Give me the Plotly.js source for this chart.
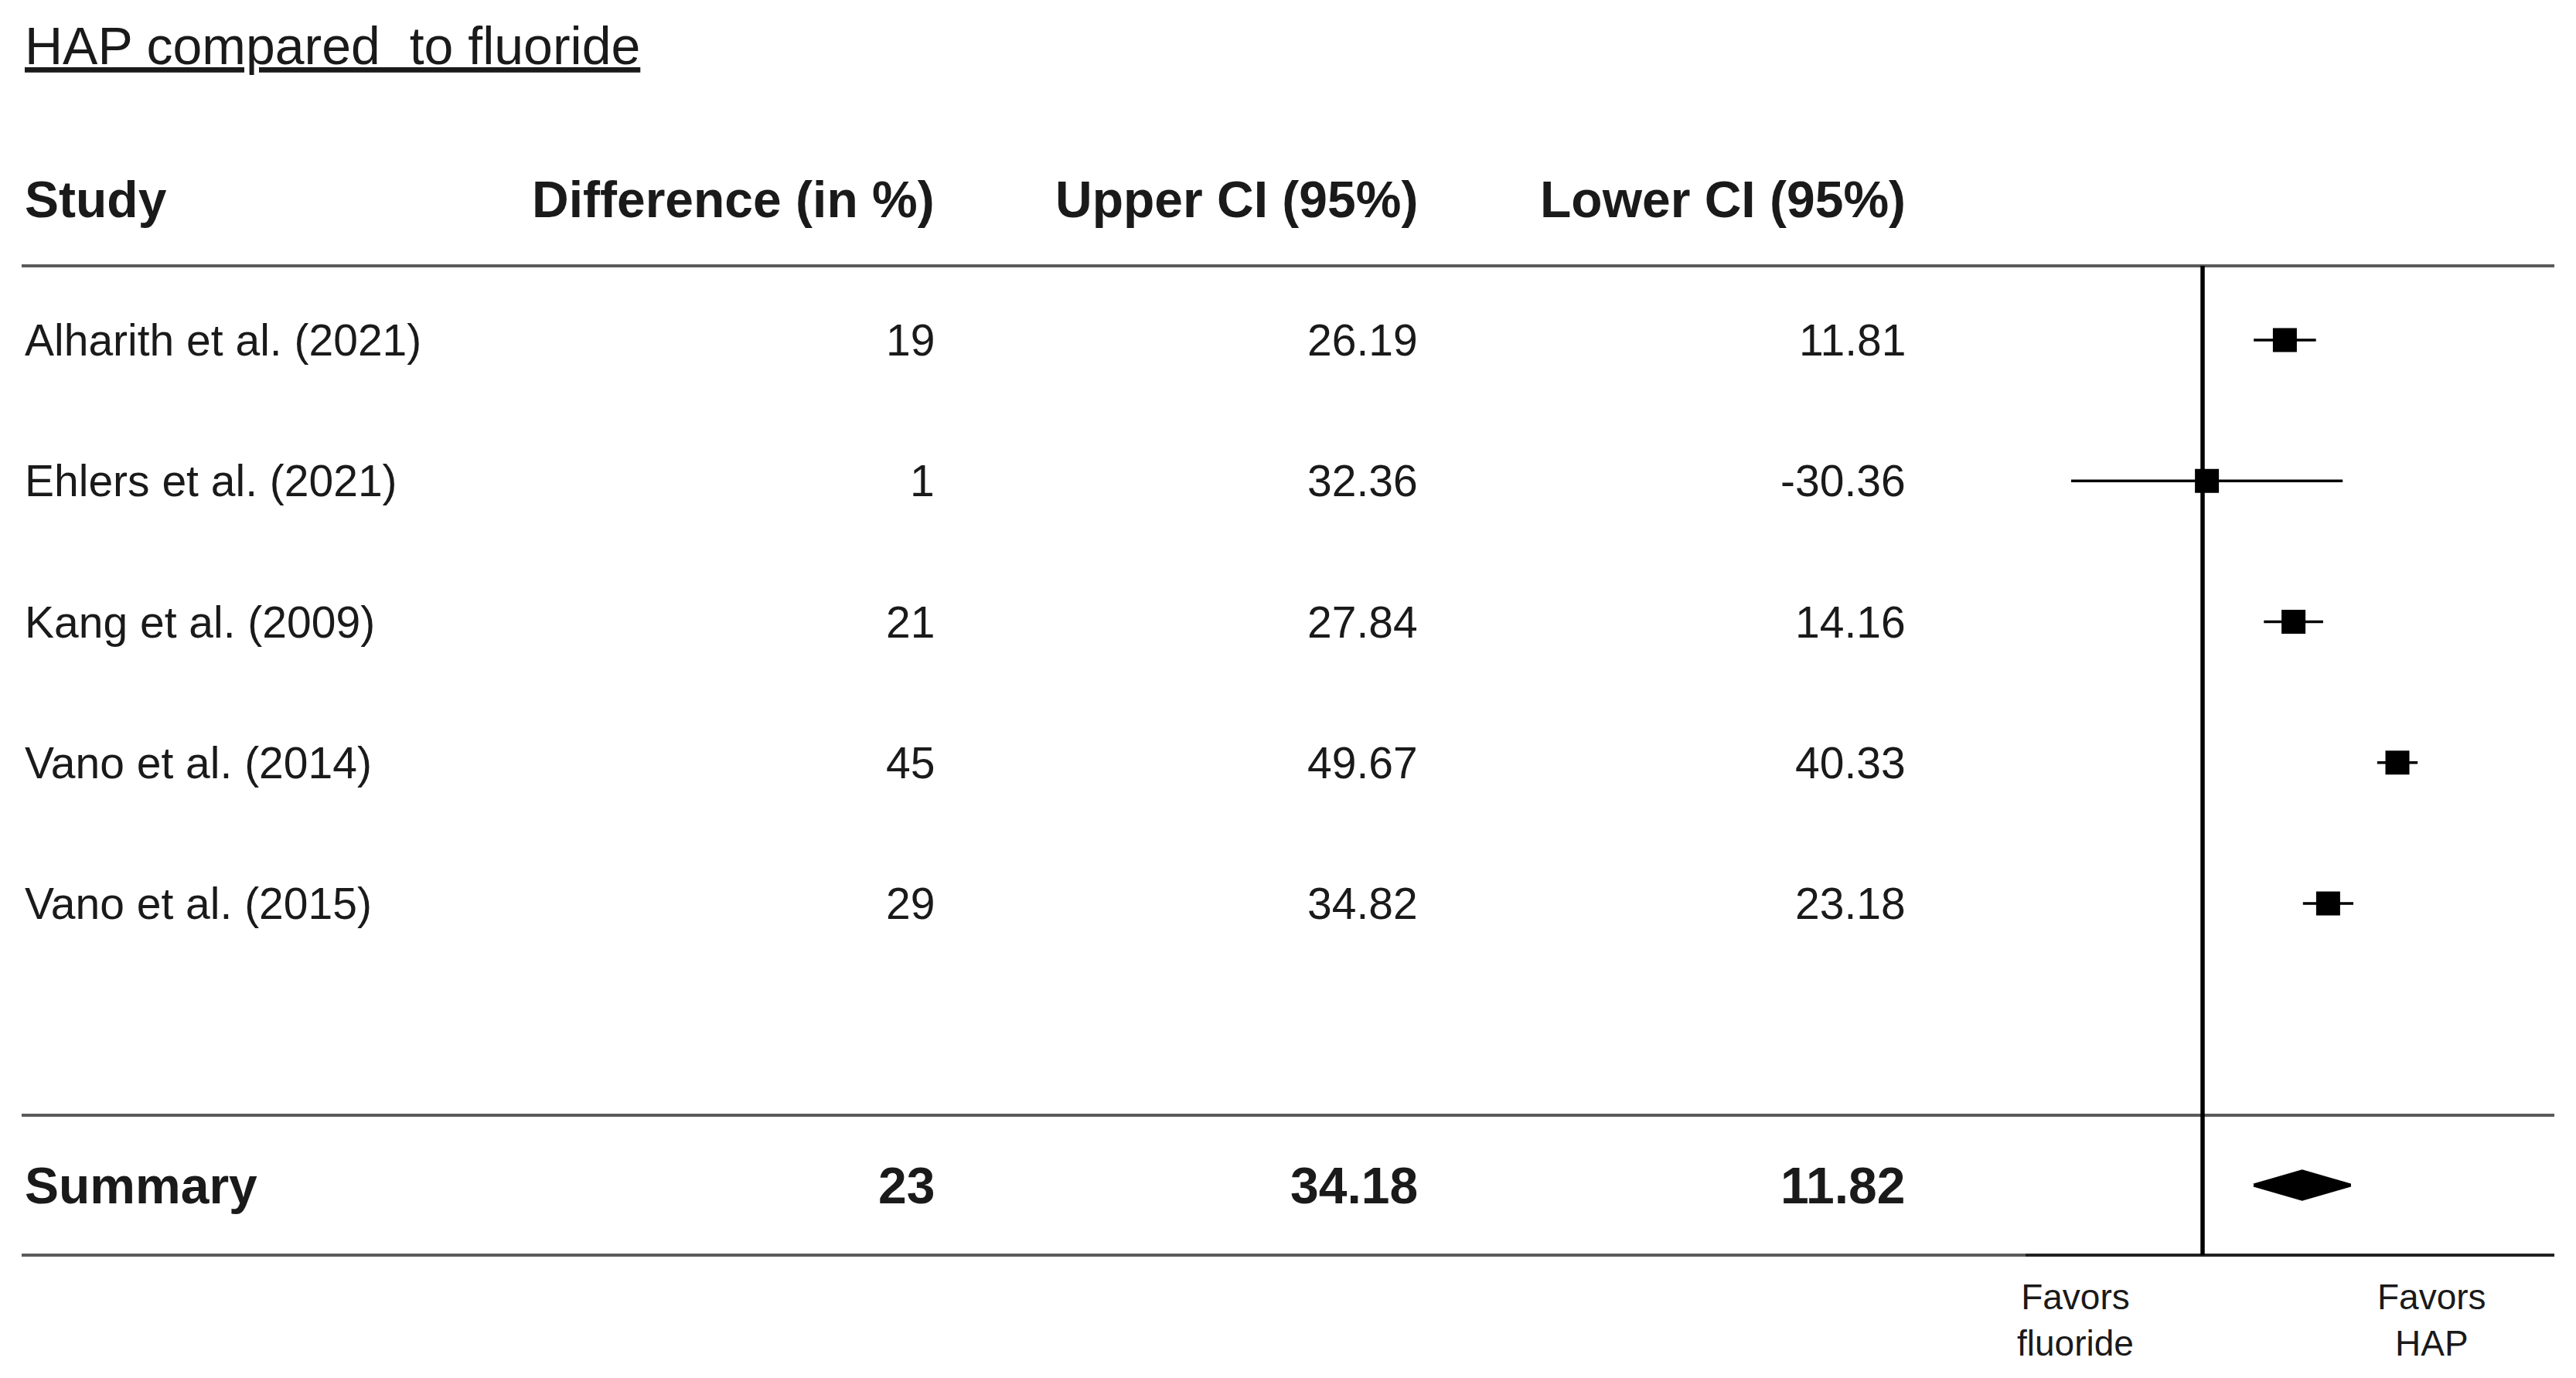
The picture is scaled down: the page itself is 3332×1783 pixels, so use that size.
<!DOCTYPE html>
<html>
<head>
<meta charset="utf-8">
<script src="https://cdn.plot.ly/plotly-3.0.1.min.js"></script>
<style>
html, body { margin: 0; padding: 0; background: #ffffff; }
#chart { width: 3332px; height: 1783px; }
</style>
</head>
<body>
<div id="chart"></div>
<script>
// ---- data ----
var titleText = 'HAP compared\u00a0 to fluoride';
var headers = ['Study', 'Difference (in %)', 'Upper CI (95%)', 'Lower CI (95%)'];
var studies = ['Alharith et al. (2021)', 'Ehlers et al. (2021)', 'Kang et al. (2009)', 'Vano et al. (2014)', 'Vano et al. (2015)'];
var diffs = [19, 1, 21, 45, 29];
var uppers = [26.19, 32.36, 27.84, 49.67, 34.82];
var lowers = [11.81, -30.36, 14.16, 40.33, 23.18];
var summaryLabel = 'Summary';
var summaryDiff = 23;
var summaryUpper = 34.18;
var summaryLower = 11.82;
var favorLeft = 'Favors<br>fluoride';
var favorRight = 'Favors<br>HAP';

// ---- layout constants ----
var W = 3332, H = 1783;
var FONT = 'Liberation Sans, Arial, Helvetica, sans-serif';
var TXT = '#1a1a1a';
var colX = [30 / W, 1211 / W, 1836 / W, 2467 / W];   // left, right, right, right
var colAnchor = ['left', 'right', 'right', 'right'];
var headerRow = 0;
var studyRows = studies.map(function (_, i) { return i + 1; });
var summaryRow = studies.length + 2;
var lineTop = 0.473, lineMid = 6.503, lineBot = 7.497;
var bodySize = 57, boldSize = 66;

var annotations = [];
// title
annotations.push({
  xref: 'paper', yref: 'paper', x: 30 / W, y: 1 - 59 / H,
  xanchor: 'left', yanchor: 'middle', showarrow: false,
  text: '<u>' + titleText + '</u>',
  font: { family: FONT, size: 68, color: TXT }
});
// headers
headers.forEach(function (h, c) {
  annotations.push({
    xref: 'paper', yref: 'y', x: colX[c], y: headerRow,
    xanchor: colAnchor[c], yanchor: 'middle', showarrow: false,
    text: '<b>' + h + '</b>',
    font: { family: FONT, size: boldSize, color: TXT }
  });
});
// study rows
studies.forEach(function (s, i) {
  var cells = [s, String(diffs[i]), String(uppers[i]), String(lowers[i])];
  cells.forEach(function (t, c) {
    annotations.push({
      xref: 'paper', yref: 'y', x: colX[c], y: studyRows[i],
      xanchor: colAnchor[c], yanchor: 'middle', showarrow: false,
      text: t,
      font: { family: FONT, size: bodySize, color: TXT }
    });
  });
});
// summary row
[summaryLabel, String(summaryDiff), String(summaryUpper), String(summaryLower)].forEach(function (t, c) {
  annotations.push({
    xref: 'paper', yref: 'y', x: colX[c], y: summaryRow,
    xanchor: colAnchor[c], yanchor: 'middle', showarrow: false,
    text: '<b>' + t + '</b>',
    font: { family: FONT, size: boldSize, color: TXT }
  });
});
// favors labels
annotations.push({
  xref: 'paper', yref: 'paper', x: 2684 / W, y: 1 - 1708 / H,
  xanchor: 'center', yanchor: 'middle', showarrow: false,
  text: favorLeft, align: 'center',
  font: { family: FONT, size: 46, color: TXT }
});
annotations.push({
  xref: 'paper', yref: 'paper', x: 3145 / W, y: 1 - 1708 / H,
  xanchor: 'center', yanchor: 'middle', showarrow: false,
  text: favorRight, align: 'center',
  font: { family: FONT, size: 46, color: TXT }
});

var gray = '#5a5a5a';
var shapes = [
  { type: 'line', xref: 'paper', yref: 'y', x0: 28 / W, x1: 3304 / W, y0: lineTop, y1: lineTop, line: { color: gray, width: 4 } },
  { type: 'line', xref: 'paper', yref: 'y', x0: 28 / W, x1: 3304 / W, y0: lineMid, y1: lineMid, line: { color: gray, width: 4 } },
  { type: 'line', xref: 'paper', yref: 'y', x0: 28 / W, x1: 3304 / W, y0: lineBot, y1: lineBot, line: { color: gray, width: 4 } },
  { type: 'line', xref: 'paper', yref: 'y', x0: 2620 / W, x1: 3304 / W, y0: lineBot, y1: lineBot, line: { color: '#222222', width: 4 } },
  { type: 'line', xref: 'x', yref: 'y', x0: 0, x1: 0, y0: lineTop, y1: lineBot, line: { color: '#000000', width: 5.5 } }
];

// forest traces
var studyTrace = {
  type: 'scatter', mode: 'markers',
  x: diffs, y: studyRows,
  marker: { symbol: 'square', size: 31, color: '#000000' },
  error_x: {
    type: 'data', symmetric: false,
    array: uppers.map(function (u, i) { return u - diffs[i]; }),
    arrayminus: lowers.map(function (l, i) { return diffs[i] - l; }),
    width: 0, thickness: 3.5, color: '#000000'
  },
  hoverinfo: 'skip', showlegend: false
};
var dh = 0.1;
var diamondTrace = {
  type: 'scatter', mode: 'lines',
  x: [summaryLower, summaryDiff, summaryUpper, summaryDiff, summaryLower],
  y: [summaryRow, summaryRow - dh, summaryRow, summaryRow + dh, summaryRow],
  fill: 'toself', fillcolor: '#000000',
  line: { color: '#000000', width: 4 },
  hoverinfo: 'skip', showlegend: false
};

var zeroPx = 2849, pxPerUnit = 5.6, domL = 2560, domR = 3304;
var layout = {
  width: W, height: H,
  margin: { l: 0, r: 0, t: 0, b: 0, pad: 0 },
  paper_bgcolor: '#ffffff', plot_bgcolor: 'rgba(0,0,0,0)',
  showlegend: false,
  xaxis: {
    domain: [domL / W, domR / W],
    range: [(domL - zeroPx) / pxPerUnit, (domR - zeroPx) / pxPerUnit],
    showgrid: false, zeroline: false, showticklabels: false, ticks: '', showline: false, fixedrange: true
  },
  yaxis: {
    domain: [0, 1],
    range: [1 + (H - 440) / 182.25, 1 - 440 / 182.25],
    showgrid: false, zeroline: false, showticklabels: false, ticks: '', showline: false, fixedrange: true
  },
  annotations: annotations,
  shapes: shapes
};

Plotly.newPlot('chart', [studyTrace, diamondTrace], layout, { displayModeBar: false, staticPlot: true });
</script>
</body>
</html>
